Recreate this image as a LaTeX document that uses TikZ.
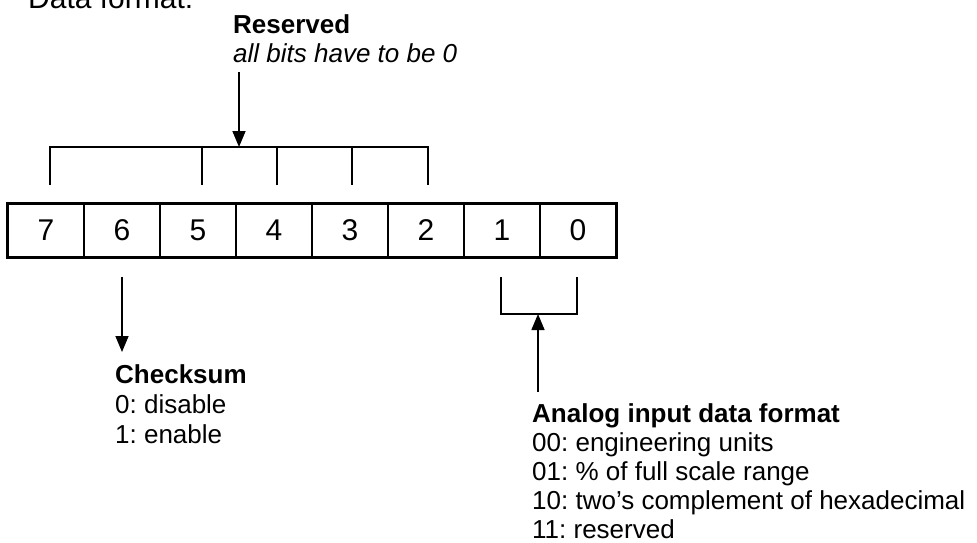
\documentclass[tikz,border=0pt]{standalone}
\usepackage{fontspec}
\setmainfont{Liberation Sans}
\usetikzlibrary{arrows.meta}
\frenchspacing
\begin{document}
\begin{tikzpicture}[x=1pt,y=-1pt,
  lbl/.style={anchor=base west,inner sep=0pt,font=\fontsize{26}{30}\selectfont},
  lblb/.style={anchor=base west,inner sep=0pt,font=\fontsize{26}{30}\selectfont\bfseries},
  lbli/.style={anchor=base west,inner sep=0pt,font=\fontsize{26}{30}\selectfont\itshape},
  bitcell/.style={draw,line width=2pt,minimum width=76pt,minimum height=53pt,inner sep=0pt,font=\fontsize{30}{36}\selectfont},
  brk/.style={line width=1.6pt},
  arr/.style={line width=1.6pt,-{Triangle[length=16pt,width=13pt]}}]
\useasboundingbox (0,0) rectangle (977,542);

% title (cut off at top)
\node[anchor=base west,inner sep=0pt,font=\fontsize{30}{36}\selectfont] (title) at (28,8) {Data format:};

% bit cells
\foreach \b [count=\i from 0] in {7,6,5,4,3,2,1,0}
  \node[bitcell] (b\b) at ({46+76*\i},230.5) {\b};
\draw[line width=2.6pt] (b7.north west) rectangle (b0.south east);

% reserved bracket
\coordinate (r7) at (50,185);
\coordinate (r5) at (202,185);
\coordinate (r4) at (277,185);
\coordinate (r3) at (352,185);
\coordinate (r2) at (428,185);
\coordinate (rtop) at (239,147);
\draw[brk] (r7) |- (r2 |- rtop) -- (r2);
\draw[brk] (r5) -- (r5 |- rtop);
\draw[brk] (r4) -- (r4 |- rtop);
\draw[brk] (r3) -- (r3 |- rtop);
\coordinate (rtail) at (239,72);
\draw[arr] (rtail) -- (rtop);
\node[lblb] (res) at (233,33) {Reserved};
\node[lbli] (resd) at (233,62) {all bits have to be 0};

% checksum
\coordinate (cs0) at (122,277);
\coordinate (cs1) at (122,352);
\draw[arr] (cs0) -- (cs1);
\node[lblb] (chk) at (115,383) {Checksum};
\node[lbl] (chk0) at (115,413) {0: disable};
\node[lbl] (chk1) at (115,443) {1: enable};

% analog input bracket
\coordinate (a1) at (501,277);
\coordinate (a0) at (577,277);
\coordinate (abot) at (538,314);
\draw[brk] (a1) |- (a0 |- abot) -- (a0);
\coordinate (atail) at (538,392);
\draw[arr] (atail) -- (abot);
\node[lblb] (ana) at (532,422) {Analog input data format};
\node[lbl] (ana0) at (532,451) {00: engineering units};
\node[lbl] (ana1) at (532,480) {01: \% of full scale range};
\node[lbl] (ana2) at (532,509) {10: two’s complement of hexadecimal};
\node[lbl] (ana3) at (532,538) {11: reserved};
\end{tikzpicture}
\end{document}
